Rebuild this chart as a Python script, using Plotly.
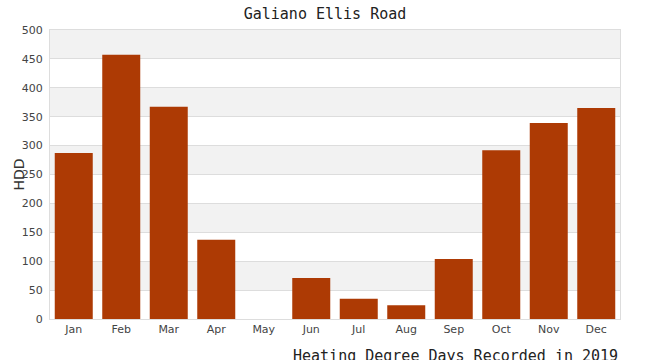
import plotly.graph_objects as go

months = ["Jan", "Feb", "Mar", "Apr", "May", "Jun", "Jul", "Aug", "Sep", "Oct", "Nov", "Dec"]
hdd = [287, 457, 367, 137, 0, 71, 35, 24, 104, 292, 339, 365]
y_ticks = [0, 50, 100, 150, 200, 250, 300, 350, 400, 450, 500]

title_text = "Galiano Ellis Road"
y_title = "HDD"
x_title = "Heating Degree Days Recorded in 2019"

bar_color = "#ad3a04"
band_color = "#f2f2f2"
grid_color = "#dddddd"

fig = go.Figure()
fig.add_trace(go.Bar(x=months, y=hdd, marker=dict(color=bar_color, line=dict(width=0)),
                     hoverinfo="x+y"))

# alternating background bands (gray on 50-100, 150-200, ...)
shapes = []
for i in range(len(y_ticks) - 1):
    if i % 2 == 1:
        shapes.append(dict(type="rect", xref="paper", yref="y", x0=0, x1=1,
                           y0=y_ticks[i], y1=y_ticks[i + 1], fillcolor=band_color,
                           line=dict(width=0), layer="below"))

fig.update_layout(
    width=650, height=360,
    margin=dict(l=50, r=30, t=30, b=41),
    paper_bgcolor="white", plot_bgcolor="white",
    shapes=shapes,
    bargap=0.2,
    showlegend=False,
    title=dict(text=title_text, x=0.5, xref="container", xanchor="center",
               y=1 - 14 / 360, yref="container", yanchor="middle",
               font=dict(family="DejaVu Sans Mono", size=15, color="#222")),
    xaxis=dict(showgrid=False, ticks="", tickfont=dict(family="DejaVu Sans", size=11, color="#444"),
               showline=True, linecolor=grid_color, linewidth=1, mirror=True,
               fixedrange=True),
    yaxis=dict(range=[0, 500], tickvals=y_ticks, showgrid=True, gridcolor=grid_color, gridwidth=1,
               zeroline=False, ticks="", tickfont=dict(family="DejaVu Sans", size=11, color="#444"),
               showline=True, linecolor=grid_color, linewidth=1, mirror=True, ticklabelstandoff=4,
               fixedrange=True),
    annotations=[
        dict(text=y_title, xref="paper", yref="paper", x=-32 / 570, y=0.5, xanchor="center",
             yanchor="middle", textangle=-90, showarrow=False,
             font=dict(family="DejaVu Sans", size=14, color="#333")),
        dict(text=x_title, xref="paper", yref="paper", x=1, y=-(356 - 319) / 289,
             xanchor="right", yanchor="middle", showarrow=False,
             font=dict(family="DejaVu Sans Mono", size=15, color="#222")),
    ],
)

fig.write_html("out.html")
